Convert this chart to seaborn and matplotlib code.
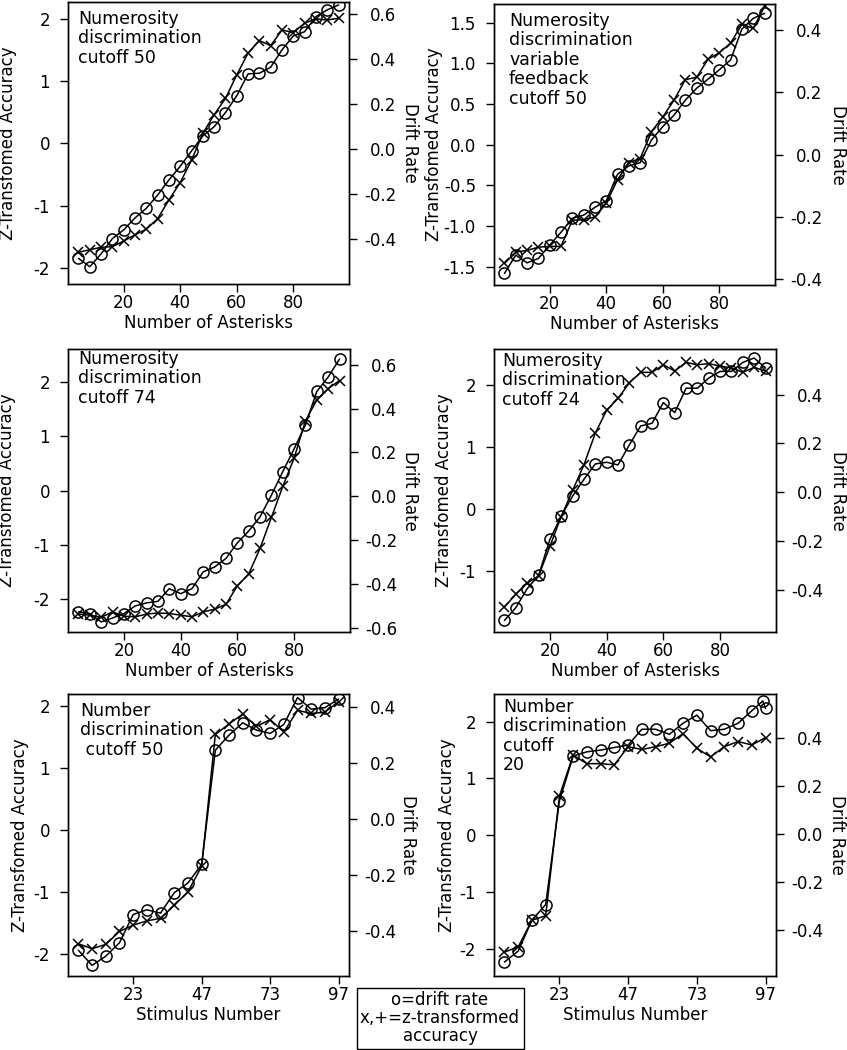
import matplotlib
matplotlib.use("Agg")
import matplotlib.pyplot as plt
from matplotlib.patches import Rectangle
import seaborn as sns

# x values
asterisks = [4, 8, 12, 16, 20, 24, 28, 32, 36, 40, 44, 48,
             52, 56, 60, 64, 68, 72, 76, 80, 84, 88, 92, 96]
stimulus = [2, 7, 12, 17, 22, 27, 32, 37, 42, 47,
            52, 57, 62, 67, 72, 77, 82, 87, 92, 97]
stimulus_p6_drift = [2, 7, 12, 17, 22, 27, 32, 37, 42, 47,
                     52, 57, 62, 67, 72, 77, 82, 87, 92, 96, 97]
stim_ticks = [22, 47, 72, 97]
stim_ticklabels = ["23", "47", "73", "97"]

# panel 1: numerosity, cutoff 50
p1_drift = [-0.488, -0.525, -0.468, -0.400, -0.361, -0.308, -0.265, -0.206, -0.139, -0.078,
            -0.010, 0.057, 0.098, 0.161, 0.236, 0.333, 0.336, 0.363, 0.440, 0.502,
            0.521, 0.588, 0.618, 0.640]
p1_z = [-1.75, -1.71, -1.67, -1.66, -1.57, -1.47, -1.38, -1.21, -0.91, -0.63,
        -0.27, 0.16, 0.46, 0.72, 1.10, 1.45, 1.65, 1.57, 1.82, 1.78,
        1.93, 2.00, 1.98, 2.01]

# panel 2: numerosity, variable feedback, cutoff 50
p2_drift = [-0.381, -0.322, -0.347, -0.333, -0.290, -0.249, -0.204, -0.194, -0.169, -0.148,
            -0.063, -0.036, -0.026, 0.047, 0.090, 0.127, 0.175, 0.213, 0.242, 0.272,
            0.304, 0.403, 0.437, 0.453]
p2_z = [-1.46, -1.32, -1.30, -1.26, -1.25, -1.25, -0.93, -0.92, -0.89, -0.72,
        -0.43, -0.22, -0.17, 0.16, 0.34, 0.55, 0.80, 0.83, 1.05, 1.13,
        1.25, 1.48, 1.43, 1.70]

# panel 3: numerosity, cutoff 74
p3_drift = [-0.528, -0.536, -0.574, -0.556, -0.536, -0.501, -0.487, -0.480, -0.422, -0.445,
            -0.422, -0.345, -0.323, -0.284, -0.213, -0.159, -0.094, 0.005, 0.112, 0.216,
            0.326, 0.478, 0.544, 0.626]
p3_z = [-2.27, -2.29, -2.33, -2.23, -2.31, -2.32, -2.27, -2.25, -2.26, -2.29,
        -2.32, -2.23, -2.18, -2.09, -1.75, -1.53, -1.06, -0.49, 0.08, 0.60,
        1.29, 1.67, 1.88, 2.03]

# panel 4: numerosity, cutoff 24
p4_drift = [-0.526, -0.474, -0.396, -0.341, -0.194, -0.098, -0.016, 0.053, 0.116, 0.123,
            0.112, 0.194, 0.272, 0.283, 0.368, 0.327, 0.427, 0.427, 0.469, 0.496,
            0.496, 0.533, 0.551, 0.510]
p4_z = [-1.575, -1.37, -1.19, -1.08, -0.60, -0.12, 0.30, 0.71, 1.22, 1.59,
        1.78, 2.03, 2.20, 2.20, 2.32, 2.22, 2.36, 2.32, 2.34, 2.30,
        2.27, 2.20, 2.28, 2.22]

# panel 5: number, cutoff 50
p5_drift = [-0.469, -0.523, -0.490, -0.442, -0.341, -0.324, -0.336, -0.263, -0.228, -0.162,
            0.247, 0.301, 0.345, 0.319, 0.307, 0.339, 0.435, 0.394, 0.399, 0.430]
p5_z = [-1.84, -1.92, -1.85, -1.64, -1.54, -1.47, -1.43, -1.22, -1.00, -0.59,
        1.54, 1.71, 1.87, 1.67, 1.78, 1.58, 1.93, 1.88, 1.90, 2.07]

# panel 6: number, cutoff 20
p6_drift = [-0.533, -0.487, -0.358, -0.293, 0.139, 0.326, 0.344, 0.351, 0.362, 0.372,
            0.438, 0.438, 0.417, 0.463, 0.497, 0.432, 0.438, 0.463, 0.515, 0.556, 0.525]
p6_z = [-2.06, -1.97, -1.50, -1.42, 0.69, 1.41, 1.26, 1.26, 1.24, 1.56,
        1.51, 1.56, 1.62, 1.79, 1.53, 1.38, 1.56, 1.65, 1.59, 1.72]

titles = [
    "Numerosity\ndiscrimination\ncutoff 50",
    "Numerosity\ndiscrimination\nvariable\nfeedback\ncutoff 50",
    "Numerosity\ndiscrimination\ncutoff 74",
    "Numerosity\ndiscrimination\ncutoff 24",
    "Number\ndiscrimination\n cutoff 50",
    "Number\ndiscrimination\ncutoff\n20",
]

sns.set_style("ticks")
plt.rcParams["font.family"] = ["DejaVu Sans"]
plt.rcParams["axes.unicode_minus"] = False
plt.rcParams["axes.labelcolor"] = "black"
plt.rcParams["text.color"] = "black"
plt.rcParams["xtick.color"] = "black"
plt.rcParams["ytick.color"] = "black"
plt.rcParams["axes.edgecolor"] = "black"

W, H = 847, 1050
fig = plt.figure(figsize=(W / 100, H / 100), dpi=100)

# (left, top, right, bottom) in pixels, text offset, ylabel offsets
panels = [
    dict(box=(68, 2, 349, 284), x=asterisks, z=p1_z, xd=asterisks, d=p1_drift,
         zlim=(-2.26, 2.27), dlim=(-0.602, 0.653), zt=[-2, -1, 0, 1, 2], zfmt="%d",
         dt=[-0.4, -0.2, 0.0, 0.2, 0.4, 0.6], txt=(10, 8), yl=60, yr=61),
    dict(box=(494, 4, 775, 285), x=asterisks, z=p2_z, xd=asterisks, d=p2_drift,
         zlim=(-1.725, 1.73), dlim=(-0.418, 0.483), zt=[-1.5, -1.0, -0.5, 0.0, 0.5, 1.0, 1.5],
         zfmt="%.1f", dt=[-0.4, -0.2, 0.0, 0.2, 0.4], txt=(15, 8), yl=60, yr=63),
    dict(box=(68, 349, 350, 632), x=asterisks, z=p3_z, xd=asterisks, d=p3_drift,
         zlim=(-2.60, 2.61), dlim=(-0.620, 0.672), zt=[-2, -1, 0, 1, 2], zfmt="%d",
         dt=[-0.6, -0.4, -0.2, 0.0, 0.2, 0.4, 0.6], txt=(10, 1), yl=61, yr=60),
    dict(box=(494, 349, 776, 632), x=asterisks, z=p4_z, xd=asterisks, d=p4_drift,
         zlim=(-1.978, 2.575), dlim=(-0.574, 0.588), zt=[-1, 0, 1, 2], zfmt="%d",
         dt=[-0.4, -0.2, 0.0, 0.2, 0.4], txt=(8, 3), yl=50, yr=62),
    dict(box=(68, 694, 349, 976), x=stimulus, z=p5_z, xd=stimulus, d=p5_drift,
         zlim=(-2.361, 2.194), dlim=(-0.561, 0.448), zt=[-2, -1, 0, 1, 2], zfmt="%d",
         dt=[-0.4, -0.2, 0.0, 0.2, 0.4], txt=(12, 8), yl=48, yr=59),
    dict(box=(494, 694, 776, 976), x=stimulus, z=p6_z, xd=stimulus_p6_drift, d=p6_drift,
         zlim=(-2.482, 2.488), dlim=(-0.591, 0.585), zt=[-2, -1, 0, 1, 2], zfmt="%d",
         dt=[-0.4, -0.2, 0.0, 0.2, 0.4], txt=(9, 4), yl=47, yr=61),
]

for i, p in enumerate(panels):
    l, t, r, b = p["box"]
    w, h = r - l, b - t
    ax = fig.add_axes([l / W, 1 - b / H, w / W, h / H])
    ax2 = ax.twinx()

    sns.lineplot(x=p["x"], y=p["z"], ax=ax, color="black", marker="x", markersize=7.5,
                 markeredgewidth=1.1, markeredgecolor="black", linewidth=1.1,
                 estimator=None, sort=False)
    sns.lineplot(x=p["xd"], y=p["d"], ax=ax2, color="black", marker="o", markersize=8,
                 markerfacecolor="none", markeredgecolor="black", markeredgewidth=1.1,
                 linewidth=1.1, estimator=None, sort=False)

    numerosity = i < 4
    if numerosity:
        ax.set_xlim(0.3, 99.7)
        ax.set_xticks([20, 40, 60, 80])
        ax.set_xticklabels(["20", "40", "60", "80"])
        xlabel = "Number of Asterisks"
    else:
        ax.set_xlim(-1.8, 100.8)
        ax.set_xticks(stim_ticks)
        ax.set_xticklabels(stim_ticklabels)
        xlabel = "Stimulus Number"

    ax.set_ylim(*p["zlim"])
    ax.set_yticks(p["zt"])
    ax.set_yticklabels([p["zfmt"] % v for v in p["zt"]])
    ax2.set_ylim(*p["dlim"])
    ax2.set_yticks(p["dt"])
    ax2.set_yticklabels(["%.1f" % v if abs(v) > 1e-9 else "0.0" for v in p["dt"]])

    for a in (ax, ax2):
        for s in a.spines.values():
            s.set_visible(True)
            s.set_linewidth(1.0)
            s.set_color("black")
    ax.tick_params(axis="x", bottom=True, top=False, length=6, width=1,
                   labelsize=12, pad=1, colors="black")
    ax.tick_params(axis="y", left=True, right=False, length=6, width=1,
                   labelsize=12, pad=7, colors="black")
    ax2.tick_params(axis="y", left=False, right=True, length=6, width=1,
                    labelsize=12, pad=28, colors="black")
    plt.setp(ax2.get_yticklabels(), ha="right")

    ax.set_xlabel(xlabel, fontsize=12, va="center", color="black")
    ax.xaxis.set_label_coords(0.5, -39 / h)
    ax.set_ylabel("Z-Transfomed Accuracy", fontsize=12, va="center", color="black")
    ax.yaxis.set_label_coords(-p["yl"] / w, 0.5)
    ax2.set_ylabel("Drift Rate", fontsize=12, rotation=270, va="center", color="black")
    ax2.yaxis.set_label_coords(1 + p["yr"] / w, 0.5)

    tx, ty = p["txt"]
    ax.text(tx / w, 1 - ty / h, titles[i], transform=ax.transAxes, ha="left",
            va="top", fontsize=12.5, linespacing=1.1, color="black")

# legend box
fig.add_artist(Rectangle((357 / W, 1 - 1049 / H), (524 - 357) / W, (1049 - 988) / H,
                         transform=fig.transFigure, fill=False, lw=1, ec="black"))
fig.text(440 / W, 1 - 1018 / H, "o=drift rate\nx,+=z-transformed\naccuracy",
         ha="center", va="center", multialignment="center", fontsize=12,
         linespacing=1.0, color="black")

fig.savefig("out.png", dpi=100)
